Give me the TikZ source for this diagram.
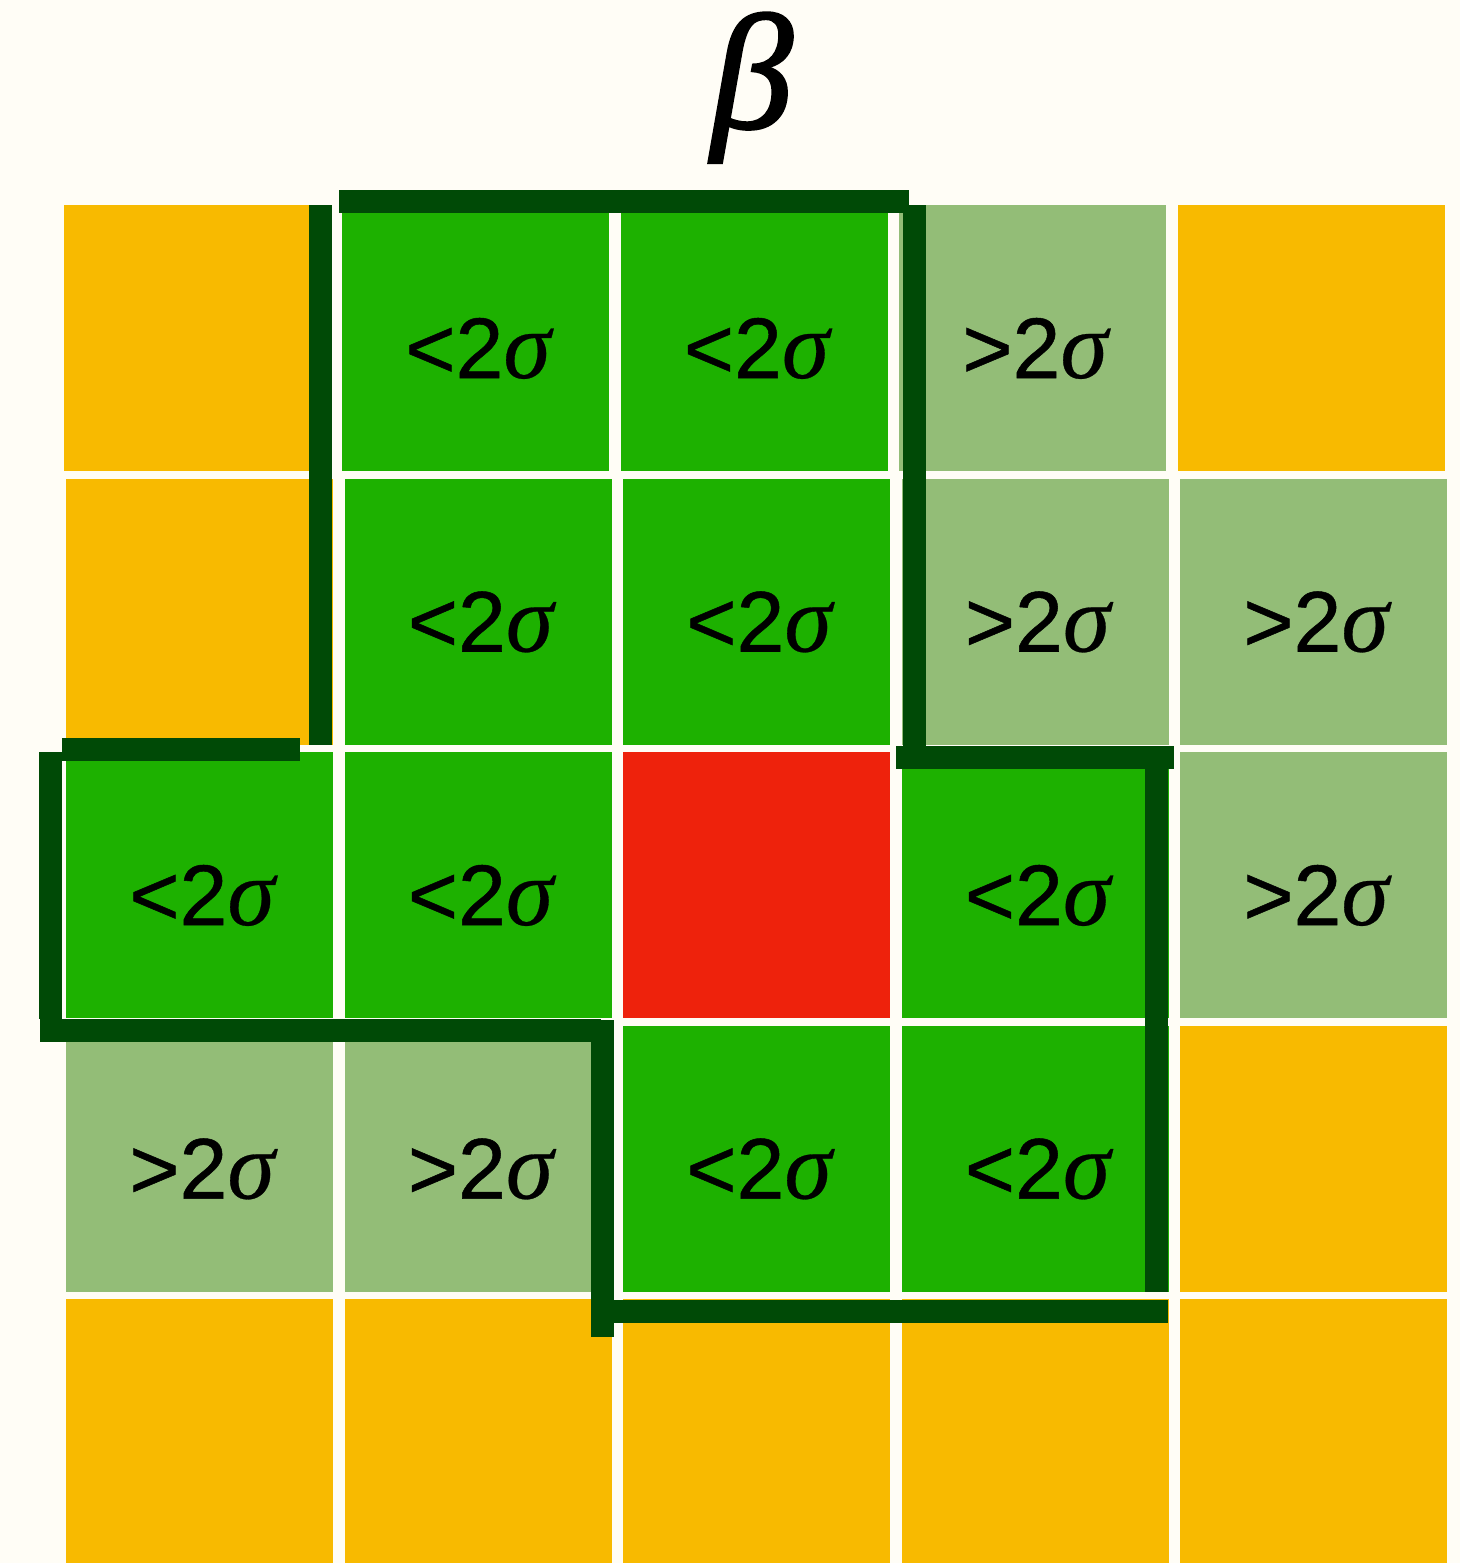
\documentclass[tikz,border=0pt]{standalone}
\usepackage{fontspec}
\newfontfamily\labfont{Liberation Sans}[FakeBold=0.6]
\newfontfamily\grfont{Liberation Serif}[FakeBold=0.3]
\newfontfamily\grbfont{Liberation Serif}[FakeBold=1.5]
\definecolor{bg}{HTML}{FFFDF6}
\definecolor{orng}{HTML}{F8BA00}
\definecolor{grn}{HTML}{1DB100}
\definecolor{lgrn}{HTML}{93BD77}
\definecolor{redc}{HTML}{EE220C}
\definecolor{dkg}{HTML}{004A06}
\newcommand\sgm{{\grfont\mdseries\itshape\fontsize{96}{100}\selectfont σ}}
\begin{document}
\begin{tikzpicture}[x=1pt,y=-1pt,
  cell/.style={rectangle,draw=none,inner sep=0pt,minimum width=267pt,minimum height=266pt,anchor=north west},
  lbl/.style={font=\labfont\fontsize{86}{90}\selectfont,anchor=base,inner sep=0pt},
  bound/.style={draw=dkg,line width=23pt,line cap=butt}]
\fill[bg] (0,0) rectangle (1460,1563);
\useasboundingbox (0,0) rectangle (1460,1563);
% cells
\foreach \r/\c/\col in {0/0/orng,0/1/grn,0/2/grn,0/3/lgrn,0/4/orng,
                        1/0/orng,1/1/grn,1/2/grn,1/3/lgrn,1/4/lgrn,
                        2/0/grn,2/1/grn,2/2/redc,2/3/grn,2/4/lgrn,
                        3/0/lgrn,3/1/lgrn,3/2/grn,3/3/grn,3/4/orng,
                        4/0/orng,4/1/orng,4/2/orng,4/3/orng,4/4/orng}{
  \pgfmathsetmacro\xx{66+278.5*\c-(\r==0?2.5:0)}
  \pgfmathsetmacro\yy{205+273.5*\r}
  \node[cell,fill=\col] (c\r\c) at (\xx,\yy) {};
}
% labels
\foreach \r/\c/\s in {0/1/<,0/2/<,0/3/>,
                      1/1/<,1/2/<,1/3/>,1/4/>,
                      2/0/<,2/1/<,2/3/<,2/4/>,
                      3/0/>,3/1/>,3/2/<,3/3/<}{
  \pgfmathsetmacro\xx{66+278.5*\c-(\r==0?2.5:0)+136}
  \pgfmathsetmacro\yy{205+273.5*\r+173}
  \node[lbl] (t\r\c) at (\xx,\yy) {\s2\sgm};
}
% title
\node[font=\grbfont\itshape\fontsize{164}{170}\selectfont,anchor=base,inner sep=0pt] (beta) at (752,128) {β};
% boundary
\draw[bound] (339,201.5) -- (909,201.5);
\draw[bound] (320.5,205) -- (320.5,745);
\draw[bound] (914,205) -- (914,760);
\draw[bound] (896,757) -- (1174,757);
\draw[bound] (1156.5,746) -- (1156.5,1292);
\draw[bound] (591,1311.5) -- (1168,1311.5);
\draw[bound] (602.5,1020) -- (602.5,1337);
\draw[bound] (40,1030) -- (601,1030);
\draw[bound] (50,752) -- (50,1019);
\draw[bound] (62,749) -- (300,749);
\end{tikzpicture}
\end{document}
